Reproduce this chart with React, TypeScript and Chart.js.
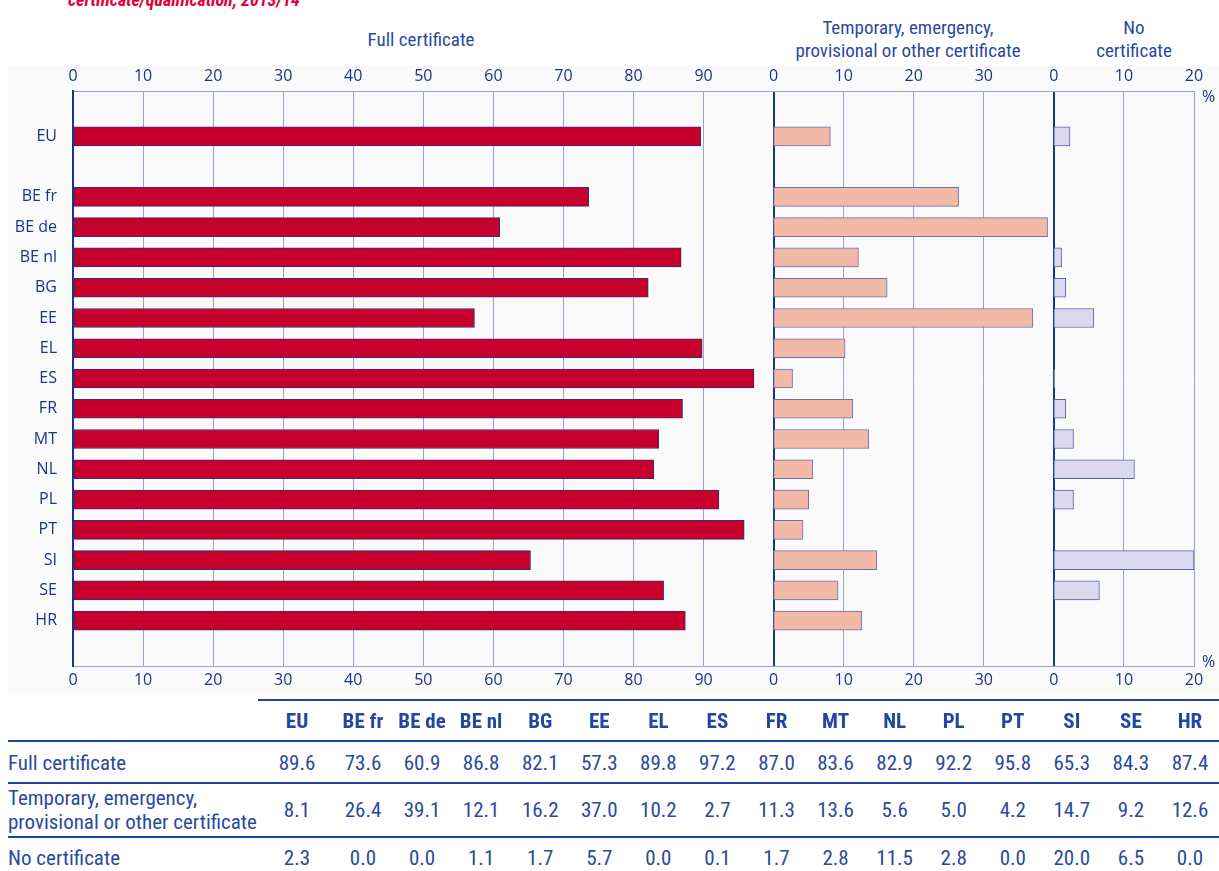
import React, { useEffect, useRef } from 'react';
import { Chart, registerables } from 'chart.js';

Chart.register(...registerables);

const titleText = 'certificate/qualification, 2013/14';
const categories = ['EU', 'BE fr', 'BE de', 'BE nl', 'BG', 'EE', 'EL', 'ES', 'FR', 'MT', 'NL', 'PL', 'PT', 'SI', 'SE', 'HR'];
const fullCert = [89.6, 73.6, 60.9, 86.8, 82.1, 57.3, 89.8, 97.2, 87.0, 83.6, 82.9, 92.2, 95.8, 65.3, 84.3, 87.4];
const tempCert = [8.1, 26.4, 39.1, 12.1, 16.2, 37.0, 10.2, 2.7, 11.3, 13.6, 5.6, 5.0, 4.2, 14.7, 9.2, 12.6];
const noCert = [2.3, 0.0, 0.0, 1.1, 1.7, 5.7, 0.0, 0.1, 1.7, 2.8, 11.5, 2.8, 0.0, 20.0, 6.5, 0.0];
const seriesNames = ['Full certificate', 'Temporary, emergency, provisional or other certificate', 'No certificate'];
const panelTitleLines = [['Full certificate'], ['Temporary, emergency,', 'provisional or other certificate'], ['No', 'certificate']];
const rowLabelLines = [['Full certificate'], ['Temporary, emergency,', 'provisional or other certificate'], ['No certificate']];
// start of each panel on the shared value axis (Full 0-100, Temporary 0-40, No 0-20)
const panelStarts = [0, 100, 140];
const axisMax = 160;

const NAVY = '#1b3585';
const TEXT = '#2a4a9e';
const GRID_LIGHT = '#9da2cf';
const NARROW = "'Liberation Sans Narrow', 'Arial Narrow', 'Roboto Condensed', 'DejaVu Sans Condensed', sans-serif";
const HUMAN = "'Open Sans', 'Noto Sans', sans-serif";

function tickLabel(v: number): string {
  if (v >= panelStarts[2]) return String(v - panelStarts[2]);
  if (v >= panelStarts[1]) return String(v - panelStarts[1]);
  return String(v);
}

function buildLabels(): string[] {
  return ['', categories[0], '', ...categories.slice(1), ''];
}

function buildData(values: number[], start: number): ([number, number] | null)[] {
  const bars = values.map((v) => [start, start + v] as [number, number]);
  return [null, bars[0], null, ...bars.slice(1), null];
}

function ChartCanvas() {
  const ref = useRef<HTMLCanvasElement | null>(null);
  useEffect(() => {
    if (!ref.current) return;
    const chart = new Chart(ref.current, {
      type: 'bar',
      data: {
        labels: buildLabels(),
        datasets: [
          {
            label: seriesNames[0],
            data: buildData(fullCert, panelStarts[0]) as any,
            backgroundColor: '#c8002e',
            borderColor: '#3a2a70',
            borderWidth: 1,
            borderSkipped: false,
            barThickness: 19,
          },
          {
            label: seriesNames[1],
            data: buildData(tempCert, panelStarts[1]) as any,
            backgroundColor: '#f3b9a7',
            borderColor: '#6a6fb0',
            borderWidth: 1,
            borderSkipped: false,
            barThickness: 19,
          },
          {
            label: seriesNames[2],
            data: buildData(noCert, panelStarts[2]) as any,
            backgroundColor: '#dcd9ee',
            borderColor: '#5565b0',
            borderWidth: 1,
            borderSkipped: false,
            barThickness: 19,
          },
        ],
      },
      options: {
        indexAxis: 'y',
        responsive: false,
        animation: false,
        layout: { padding: { left: 0, right: 25, top: 0, bottom: 0 } },
        plugins: { legend: { display: false }, tooltip: { enabled: false } },
        datasets: { bar: { grouped: false } } as any,
        scales: {
          x: {
            position: 'bottom',
            min: 0,
            max: axisMax,
            afterFit: (s: any) => { s.height = 34; },
            ticks: {
              stepSize: 10,
              autoSkip: false,
              maxRotation: 0,
              padding: 5,
              color: NAVY,
              font: { family: HUMAN, size: 16 },
              callback: (v: any) => tickLabel(Number(v)),
            },
            grid: {
              drawTicks: false,
              color: (ctx: any) => (ctx.tick && panelStarts.includes(ctx.tick.value) ? NAVY : GRID_LIGHT),
              lineWidth: (ctx: any) => (ctx.tick && panelStarts.includes(ctx.tick.value) ? 2 : 1),
            },
            border: { display: true, color: GRID_LIGHT, width: 1 },
          },
          x2: {
            position: 'top',
            type: 'linear',
            min: 0,
            max: axisMax,
            afterFit: (s: any) => { s.height = 91; },
            ticks: {
              stepSize: 10,
              autoSkip: false,
              maxRotation: 0,
              padding: 5,
              color: NAVY,
              font: { family: HUMAN, size: 16 },
              callback: (v: any) => tickLabel(Number(v)),
            },
            grid: { drawTicks: false, color: 'rgba(0,0,0,0)' },
            border: { display: true, color: GRID_LIGHT, width: 1 },
          },
          y: {
            afterFit: (s: any) => { s.width = 73; },
            ticks: {
              padding: 16,
              autoSkip: false,
              color: NAVY,
              font: { family: HUMAN, size: 16 },
            },
            grid: { display: false, drawTicks: false },
            border: { display: true, color: NAVY, width: 2 },
          },
        },
      },
    });
    return () => chart.destroy();
  }, []);
  return (
    <canvas
      ref={ref}
      width={1219}
      height={700}
      style={{ position: 'absolute', left: 0, top: 0, width: 1219, height: 700 }}
    />
  );
}

function colCenter(i: number): number {
  return i === 0 ? 297 : 363 + (i - 1) * 59.07;
}

const tableValues = [fullCert, tempCert, noCert];
const rowCenters = [763, 810, 858];
const hLines = [
  { top: 699, left: 258 },
  { top: 740, left: 8 },
  { top: 782, left: 8 },
  { top: 836, left: 8 },
];

export default function App() {
  return (
    <div style={{ position: 'absolute', left: 0, top: 0, width: 1219, height: 871, overflow: 'hidden', background: '#fff' }}>
      <div
        style={{
          position: 'absolute', left: 68, top: -9, fontFamily: NARROW, fontWeight: 'bold', fontStyle: 'italic',
          fontSize: 18, lineHeight: '18px', color: '#e2003c', whiteSpace: 'nowrap',
        }}
      >
        {titleText}
      </div>
      <div style={{ position: 'absolute', left: 8, top: 65, width: 1211, height: 628, background: '#fafafa' }} />
      {/* panel titles */}
      {[421, 908, 1134].map((cx, p) => (
        <div
          key={'pt' + p}
          style={{
            position: 'absolute', left: cx - 150, width: 300, top: panelTitleLines[p].length === 1 ? 28 : 16,
            textAlign: 'center', fontFamily: NARROW, fontSize: 19, lineHeight: '23px', color: TEXT,
          }}
        >
          {panelTitleLines[p].map((l, i) => (<div key={i}>{l}</div>))}
        </div>
      ))}
      <ChartCanvas />
      <div style={{ position: 'absolute', left: 1202, top: 85, fontFamily: HUMAN, fontSize: 16, color: NAVY }}>%</div>
      <div style={{ position: 'absolute', left: 1202, top: 650, fontFamily: HUMAN, fontSize: 16, color: NAVY }}>%</div>
      {/* table */}
      {hLines.map((l, i) => (
        <div key={'hl' + i} style={{ position: 'absolute', left: l.left, top: l.top, width: 1219 - l.left, height: 2, background: '#2244a0' }} />
      ))}
      {categories.map((c, i) => (
        <div
          key={'h' + i}
          style={{
            position: 'absolute', left: colCenter(i) - 30, width: 60, top: 708, height: 26, lineHeight: '26px',
            textAlign: 'center', fontFamily: NARROW, fontWeight: 'bold', fontSize: 21, color: '#2247a0', whiteSpace: 'nowrap',
          }}
        >
          {c}
        </div>
      ))}
      {rowLabelLines.map((lines, r) => (
        <div
          key={'rl' + r}
          style={{
            position: 'absolute', left: 8, top: rowCenters[r] - lines.length * 12, fontFamily: NARROW, fontSize: 21,
            lineHeight: '24px', color: TEXT, whiteSpace: 'nowrap',
          }}
        >
          {lines.map((l, i) => (<div key={i}>{l}</div>))}
        </div>
      ))}
      {tableValues.map((vals, r) =>
        vals.map((v, i) => (
          <div
            key={'v' + r + '-' + i}
            style={{
              position: 'absolute', left: colCenter(i) - 30, width: 60, top: rowCenters[r] - 13, height: 26, lineHeight: '26px',
              textAlign: 'center', fontFamily: NARROW, fontSize: 21, color: TEXT,
            }}
          >
            {v.toFixed(1)}
          </div>
        ))
      )}
    </div>
  );
}
